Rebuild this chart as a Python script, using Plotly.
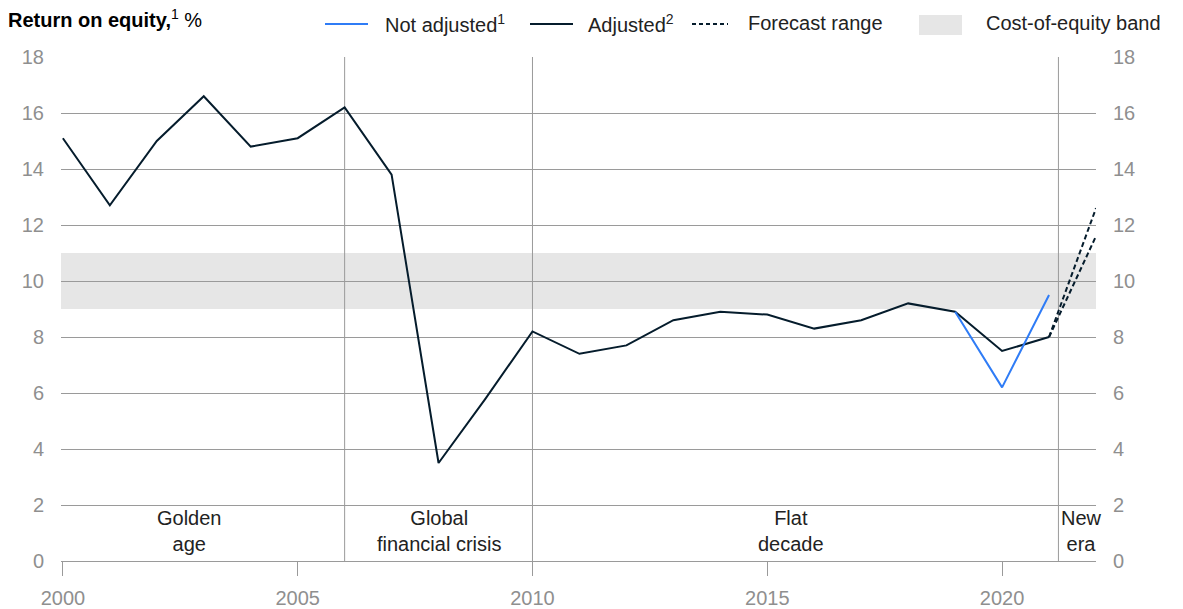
import plotly.graph_objects as go

# --- data ------------------------------------------------------------------
years = list(range(2000, 2022))
adjusted = [15.1, 12.7, 15.0, 16.6, 14.8, 15.1, 16.2, 13.8, 3.5, 5.8, 8.2,
            7.4, 7.7, 8.6, 8.9, 8.8, 8.3, 8.6, 9.2, 8.9, 7.5, 8.0]
not_adj_years = [2019, 2020, 2021]
not_adjusted = [8.9, 6.2, 9.5]
forecast_years = [2021, 2022]
forecast_high = [8.0, 12.6]
forecast_low = [8.0, 11.6]
band_low, band_high = 9, 11
era_bounds = [2006, 2010, 2021.2]
era_labels = ["Golden<br>age", "Global<br>financial crisis", "Flat<br>decade", "New<br>era"]
era_label_x = [2002.7, 2008, 2015.5, 2021.22]
y_ticks = list(range(0, 20, 2))
x_ticks = [2000, 2005, 2010, 2015, 2020]

NAVY = "#051c2c"
BLUE = "#2f7cf6"
GRID = "#9a9a9a"
TICK = "#8f8f8f"
TEXT = "#222222"
FONT = "Liberation Sans, Arial, sans-serif"

W, H = 1183, 609
PL, PR, PT, PB = 61, 1096, 57, 561   # plot area in pixels


def px(x):
    return (x - PL) / (PR - PL)


def py(y):
    return (PB - y) / (PB - PT)


fig = go.Figure()

fig.add_trace(go.Scatter(x=years, y=adjusted, mode="lines",
                         line=dict(color=NAVY, width=2), showlegend=False))
fig.add_trace(go.Scatter(x=not_adj_years, y=not_adjusted, mode="lines",
                         line=dict(color=BLUE, width=2), showlegend=False))
for f in (forecast_high, forecast_low):
    fig.add_trace(go.Scatter(x=forecast_years, y=f, mode="lines",
                             line=dict(color=NAVY, width=2, dash="5px,3px"),
                             showlegend=False))
# right-hand axis copy
fig.add_trace(go.Scatter(x=[years[0]], y=[adjusted[0]], yaxis="y2", mode="none",
                         showlegend=False, hoverinfo="skip"))

# cost-of-equity band, under the grid
fig.add_shape(type="rect", xref="paper", x0=0, x1=1, yref="y", y0=band_low, y1=band_high,
              fillcolor="#e6e6e6", line_width=0, layer="below")
for b in era_bounds:
    fig.add_shape(type="line", xref="x", x0=b, x1=b, yref="y", y0=0, y1=18,
                  line=dict(color=GRID, width=1), layer="below")

for lx, lab in zip(era_label_x, era_labels):
    fig.add_annotation(x=lx, y=1.08, xref="x", yref="y", text=lab, showarrow=False,
                       xanchor="left" if lab.startswith("New") else "center",
                       yanchor="middle",
                       font=dict(family=FONT, size=20, color=TEXT))

# title
fig.add_annotation(x=px(6), y=py(18), xref="paper", yref="paper", xanchor="left",
                   yanchor="middle", showarrow=False,
                   text="<b>Return on equity,</b><sup>1</sup> %",
                   font=dict(family=FONT, size=20, color="#000000"))

# legend, drawn by hand to match the spacing
LY = py(24)
fig.add_shape(type="line", xref="paper", yref="paper", x0=px(325), x1=px(368), y0=LY, y1=LY,
              line=dict(color=BLUE, width=2))
fig.add_shape(type="line", xref="paper", yref="paper", x0=px(530), x1=px(573), y0=LY, y1=LY,
              line=dict(color=NAVY, width=2))
fig.add_shape(type="line", xref="paper", yref="paper", x0=px(692), x1=px(728), y0=LY, y1=LY,
              line=dict(color=NAVY, width=2, dash="4px,3px"))
fig.add_shape(type="rect", xref="paper", yref="paper", x0=px(919), x1=px(962),
              y0=py(35), y1=py(15), fillcolor="#e6e6e6", line_width=0)
for lx, lab in [(383, "Not adjusted<sup>1</sup>"), (586, "Adjusted<sup>2</sup>"),
                (746, "Forecast range"), (984, "Cost-of-equity band")]:
    fig.add_annotation(x=px(lx), y=py(23), xref="paper", yref="paper", xanchor="left",
                       yanchor="middle", showarrow=False, text=lab,
                       font=dict(family=FONT, size=20, color=TEXT))

yax = dict(range=[0, 18], tickvals=y_ticks, showgrid=True, gridcolor=GRID, gridwidth=1,
           zeroline=False, showline=False, ticks="", ticklabelstandoff=16,
           tickfont=dict(family=FONT, size=20, color=TICK), fixedrange=True,
           automargin=False)
fig.update_layout(
    width=W, height=H,
    margin=dict(l=PL, r=W - PR, t=PT, b=H - PB),
    plot_bgcolor="white", paper_bgcolor="white",
    showlegend=False,
    xaxis=dict(range=[1999.96, 2022], tickvals=x_ticks, showgrid=False, zeroline=False,
               showline=True, linecolor=GRID, linewidth=1, ticks="outside", ticklen=14,
               tickcolor=GRID, tickwidth=1, automargin=False, ticklabelstandoff=5,
               fixedrange=True, tickfont=dict(family=FONT, size=20, color=TICK)),
    yaxis=yax,
    yaxis2=dict(yax, overlaying="y", side="right", showgrid=False),
)

# the page's default 8px body margin would shift the whole chart
fig.write_html("out.html", config={"displayModeBar": False},
               post_script="document.body.style.margin='0';")
